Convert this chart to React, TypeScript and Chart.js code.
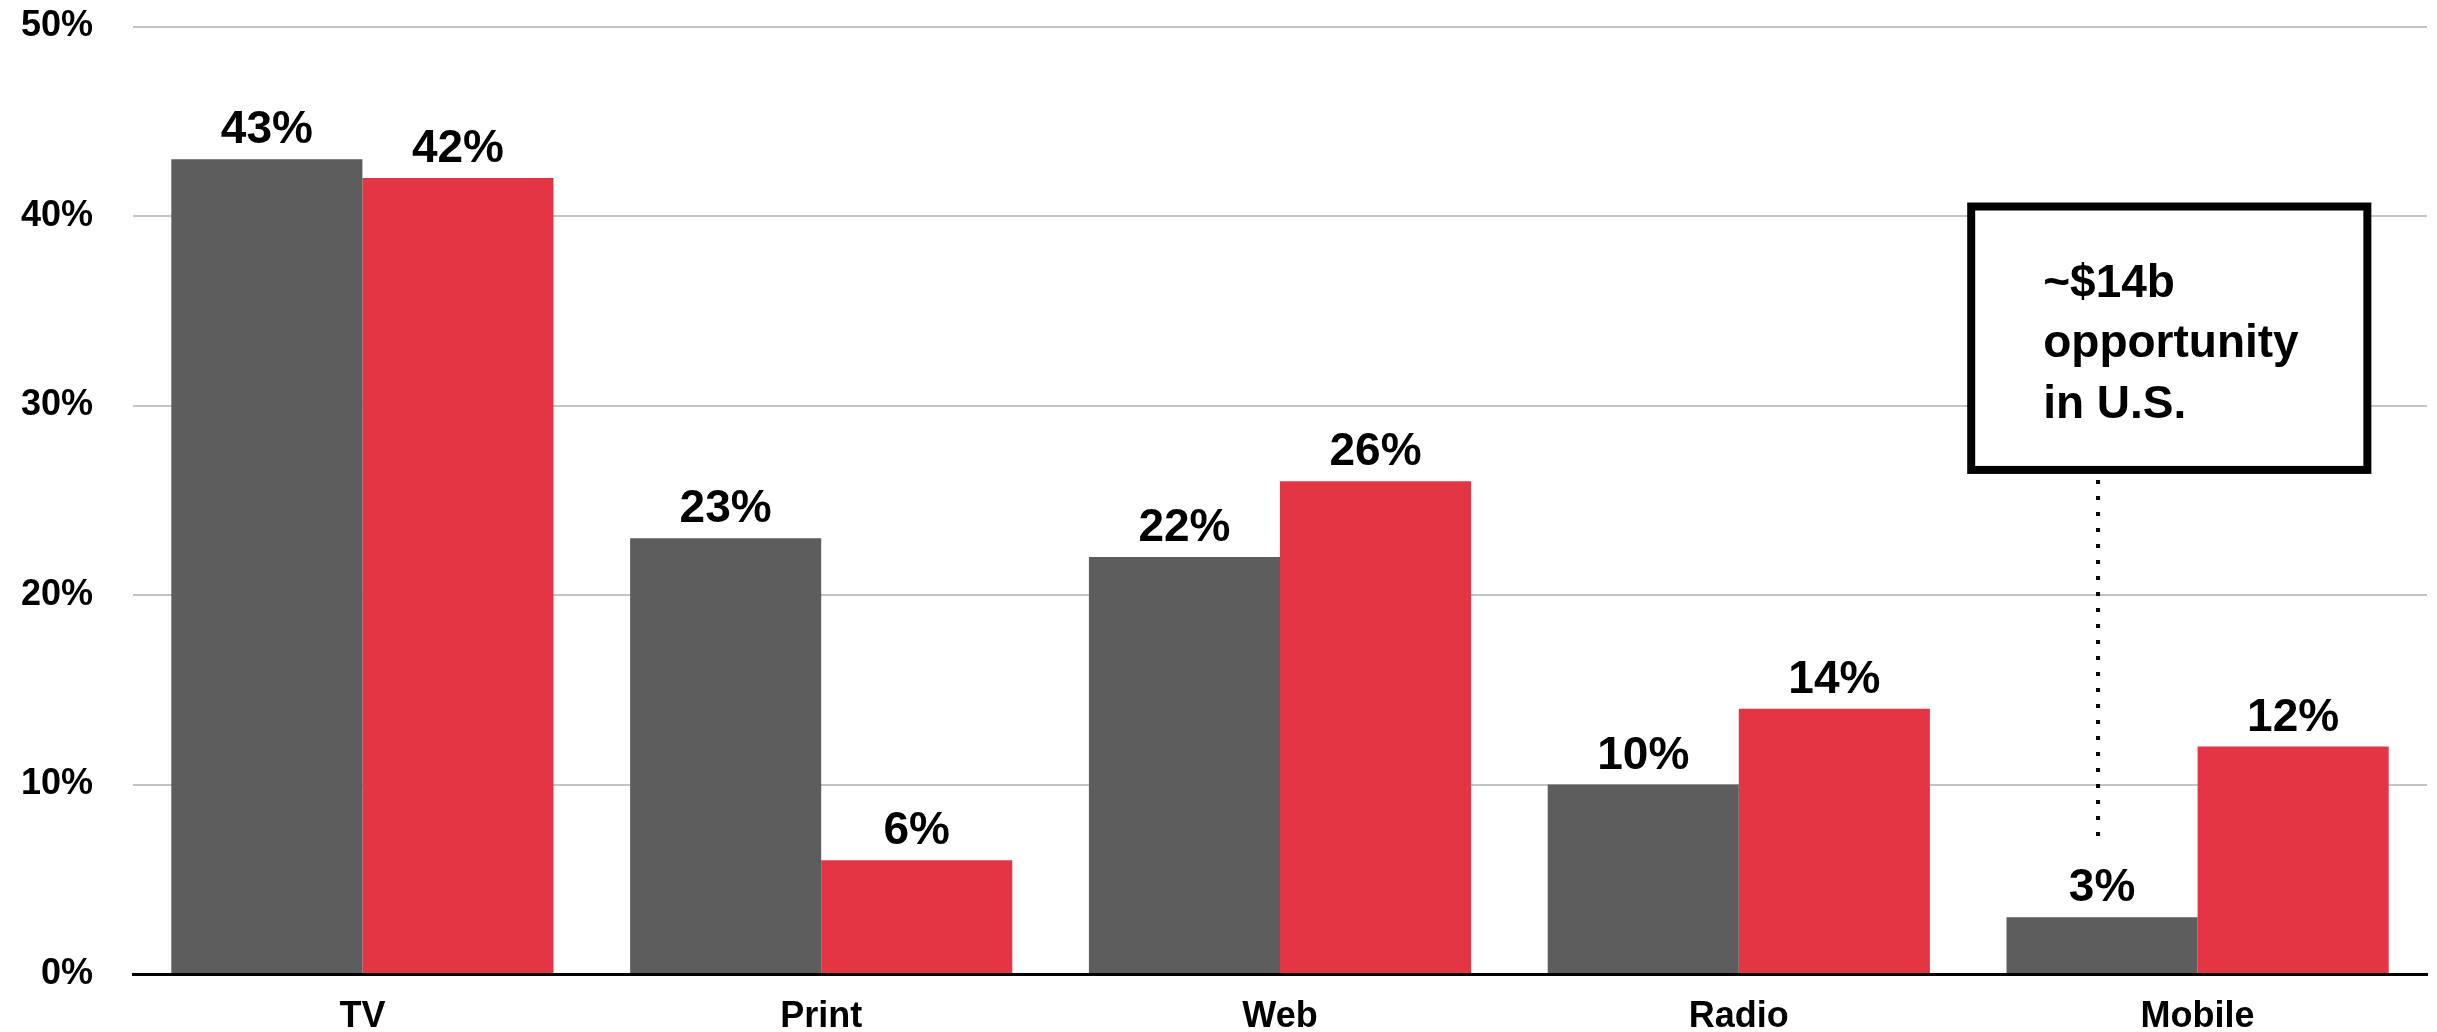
import React, { useEffect, useRef } from "react";
import { Chart, registerables } from "chart.js";

Chart.register(...registerables);

const categories = ["TV", "Print", "Web", "Radio", "Mobile"];
const seriesGray = [43, 23, 22, 10, 3];
const seriesRed = [42, 6, 26, 14, 12];
const yTickValues = [0, 10, 20, 30, 40, 50];
const annotationLines = ["~$14b", "opportunity", "in U.S."];

const FONT = "'Liberation Sans', Arial, Helvetica, sans-serif";
const GRAY = "#5d5d5d";
const RED = "#e43545";

const dataLabelPlugin = {
  id: "dataLabels",
  afterDatasetsDraw(chart: any) {
    const ctx = chart.ctx;
    ctx.save();
    ctx.font = `bold 46px ${FONT}`;
    ctx.fillStyle = "#000";
    ctx.textAlign = "center";
    ctx.textBaseline = "alphabetic";
    chart.data.datasets.forEach((ds: any, di: number) => {
      const meta = chart.getDatasetMeta(di);
      meta.data.forEach((el: any, i: number) => {
        ctx.fillText(`${ds.data[i]}%`, el.x, el.y - 16);
      });
    });
    ctx.restore();
  },
};

const annotationPlugin = {
  id: "annotationBox",
  afterDraw(chart: any) {
    const ctx = chart.ctx;
    const xs = chart.scales.x;
    const ys = chart.scales.y;
    const left = xs.getPixelForValue(3.5) + 3;
    const right = xs.getPixelForValue(4.37);
    const top = ys.getPixelForValue(40.5);
    const bottom = ys.getPixelForValue(26.6);
    ctx.save();
    // dotted leader line from box to the gray Mobile bar
    const bar = chart.getDatasetMeta(0).data[4];
    ctx.strokeStyle = "#000";
    ctx.lineWidth = 4;
    ctx.setLineDash([4, 12]);
    ctx.beginPath();
    ctx.moveTo(bar.x - 4, bottom + 10);
    ctx.lineTo(bar.x - 4, ys.getPixelForValue(7.1));
    ctx.stroke();
    ctx.setLineDash([]);
    // box
    ctx.fillStyle = "#fff";
    ctx.fillRect(left, top, right - left, bottom - top);
    ctx.lineWidth = 8;
    ctx.strokeStyle = "#000";
    ctx.strokeRect(left, top, right - left, bottom - top);
    // text
    ctx.fillStyle = "#000";
    ctx.font = `bold 46px ${FONT}`;
    ctx.textAlign = "left";
    ctx.textBaseline = "alphabetic";
    const tx = left + 72;
    const baseline0 = top + 90;
    annotationLines.forEach((line, i) => {
      ctx.fillText(line, tx, baseline0 + i * 60.8);
    });
    ctx.restore();
  },
};

export default function App() {
  const canvasRef = useRef<HTMLCanvasElement | null>(null);

  useEffect(() => {
    if (!canvasRef.current) return;
    const chart = new Chart(canvasRef.current, {
      type: "bar",
      data: {
        labels: categories,
        datasets: [
          {
            data: seriesGray,
            backgroundColor: GRAY,
            borderWidth: 0,
            categoryPercentage: 0.833,
            barPercentage: 1.0,
          },
          {
            data: seriesRed,
            backgroundColor: RED,
            borderWidth: 0,
            categoryPercentage: 0.833,
            barPercentage: 1.0,
          },
        ],
      },
      options: {
        animation: false,
        responsive: false,
        maintainAspectRatio: false,
        layout: { padding: { left: 0, right: 10, top: 26.5, bottom: 0 } },
        plugins: {
          legend: { display: false },
          tooltip: { enabled: false },
          title: { display: false },
        },
        scales: {
          x: {
            type: "category",
            grid: { display: false, drawTicks: false },
            border: { display: true, color: "#000", width: 3 },
            ticks: {
              color: "#000",
              font: { family: FONT, size: 36, weight: "bold", lineHeight: 1.2 },
              padding: 21,
              maxRotation: 0,
            },
            afterFit(scale: any) {
              scale.height = 58;
              scale.paddingLeft = 0;
              scale.paddingRight = 0;
            },
          },
          y: {
            min: 0,
            max: 50,
            afterBuildTicks(scale: any) {
              scale.ticks = yTickValues.map((v) => ({ value: v }));
            },
            grid: { color: "#c4c4c4", lineWidth: 2, drawTicks: false },
            border: { display: false },
            ticks: {
              color: "#000",
              font: { family: FONT, size: 36, weight: "bold" },
              padding: 40,
              callback: (v: any) => `${v}%`,
            },
            afterFit(scale: any) {
              scale.width = 133;
              scale.paddingTop = 0;
              scale.paddingBottom = 0;
            },
          },
        },
      },
      plugins: [dataLabelPlugin, annotationPlugin],
    });
    return () => chart.destroy();
  }, []);

  return (
    <div
      style={{
        position: "fixed",
        left: 0,
        top: 0,
        width: 2437,
        height: 1032,
        background: "#fff",
      }}
    >
      <canvas
        ref={canvasRef}
        width={2437}
        height={1032}
        style={{ display: "block", width: 2437, height: 1032 }}
      />
    </div>
  );
}
